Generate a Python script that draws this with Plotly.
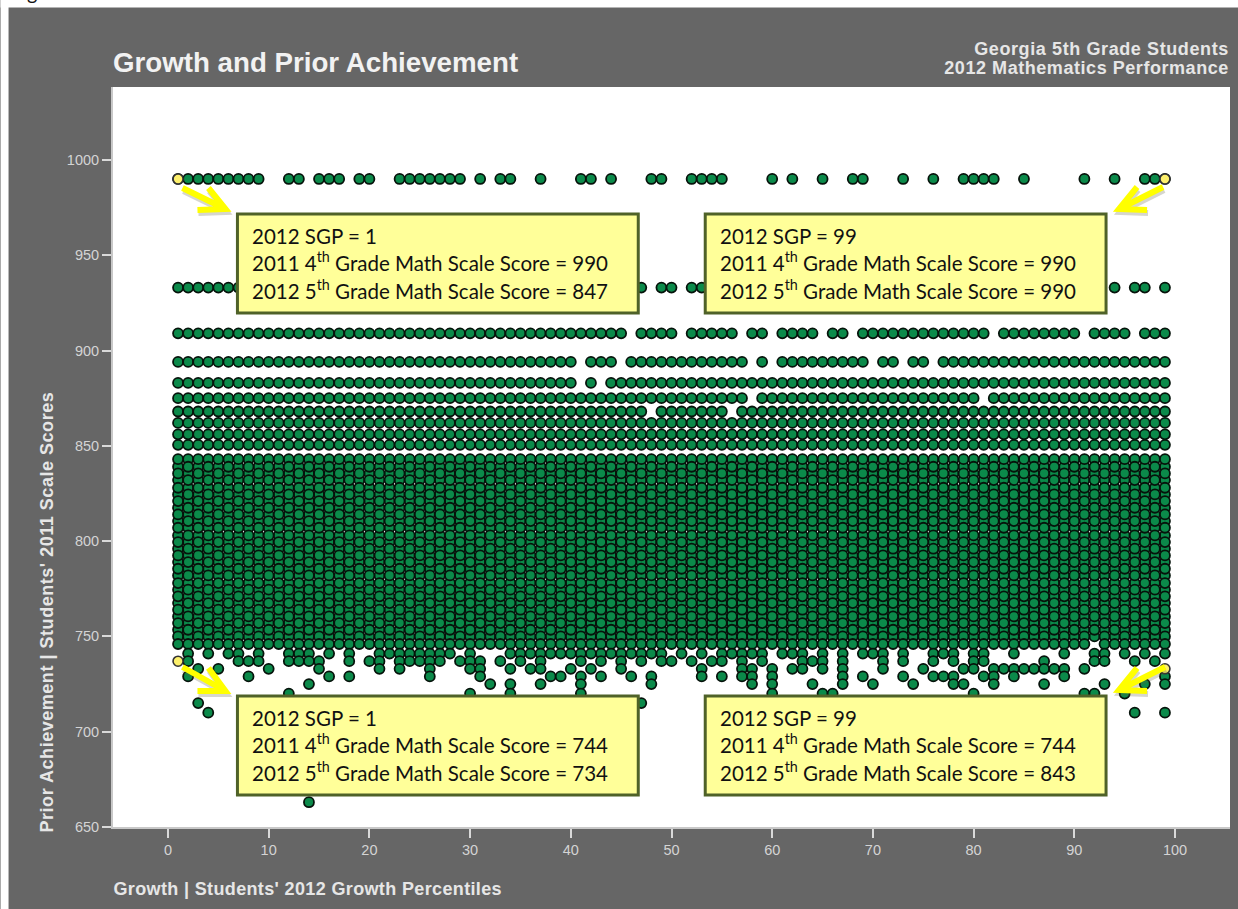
import plotly.graph_objects as go

W, H = 1238, 909
L, R, T, B = 112.5, 1230, 87, 827

TITLE = "Growth and Prior Achievement"
SUBTITLE = ["Georgia 5th Grade Students", "2012 Mathematics Performance"]
X_TITLE = "Growth | Students' 2012 Growth Percentiles"
Y_TITLE = "Prior Achievement | Students' 2011 Scale Scores"
X_TICKS = [0, 10, 20, 30, 40, 50, 60, 70, 80, 90, 100]
Y_TICKS = [650, 700, 750, 800, 850, 900, 950, 1000]

ALL_SGP = list(range(1, 100))

ROW_990 = [1, 2, 3, 4, 5, 6, 7, 8, 9, 12, 13, 15, 16, 17, 19, 20, 23, 24, 25, 26, 27, 28, 29, 31, 33, 34,
           37, 41, 42, 44, 48, 49, 52, 53, 54, 55, 60, 62, 65, 68, 69, 73, 76, 79, 80, 81, 82, 85, 91, 94,
           97, 98, 99]
ROW_933 = [1, 2, 3, 4, 5, 6, 7, 47, 49, 50, 52, 53, 94, 96, 97, 99]
ROW_909 = [*range(1, 46), 47, 48, 49, 50, 52, 53, 54, 55, 56, 58, 59, 61, 62, 63, 64, 66, 67,
           *range(69, 82), *range(83, 91), 92, 93, 94, 95, 97, 98, 99]
ROW_894 = [*range(1, 41), 42, 43, 44, *range(46, 58), 59, *range(61, 70), 71, 72, 74, 75, *range(77, 100)]
ROW_883 = [*range(1, 41), 42, *range(44, 100)]
ROW_875 = [*range(1, 58), *range(59, 81), *range(82, 100)]
ROW_868 = [*range(1, 48), *range(49, 56), *range(57, 100)]

# Rows that run complete from SGP 1 to 99
UPPER_SCORES = [862, 856, 850.5]
BLOCK_SCORES = [843, 839, 835.5, 832, 828, 824.5, 821, 817.5, 814, 810.5, 807, 803, 799.5,
                796, 792.5, 789, 785.5, 782, 778, 774.5, 771, 767.5, 764, 760.5, 757, 753.5, 750]
ROW_746 = [*range(1, 92), *range(93, 100)]
ROW_741 = [2, 4, 6, 7, 9, 12, 13, 14, 16, 18, 21, 22, 23, 24, 25, 26, 27, 28, 30, 34, 35, 36, 37, 38, 39, 40,
           41, 42, 43, 44, 45, 46, 47, 48, 49, 51, 53, 55, 56, 57, 58, 59, 61, 62, 63, 65, 67, 69, 70, 71,
           73, 76, 77, 78, 80, 81, 84, 89, 92, 93, 95, 97, 99]
ROW_737 = [2, 7, 8, 9, 12, 13, 14, 15, 18, 20, 21, 23, 24, 25, 26, 27, 29, 30, 31, 33, 35, 37, 41, 43, 45, 47,
           49, 50, 52, 54, 55, 57, 59, 63, 64, 65, 67, 71, 73, 76, 78, 80, 81, 87, 92, 93, 96, 98]
ROW_733 = [3, 5, 10, 15, 21, 23, 26, 30, 31, 34, 36, 37, 40, 42, 45, 53, 57, 58, 60, 62, 63, 65, 67, 71, 75,
           79, 80, 82, 83, 84, 85, 86, 87, 88, 89, 91]
ROW_729 = [2, 8, 16, 18, 26, 31, 38, 39, 41, 43, 46, 48, 53, 55, 57, 58, 60, 67, 69, 73, 76, 77, 78, 81, 82,
           84, 89, 99]
ROW_725 = [14, 32, 34, 37, 41, 48, 58, 60, 64, 67, 70, 74, 78, 79, 82, 87, 93, 97, 99]
ROW_720 = [12, 30, 34, 41, 60, 65, 66, 80, 91, 92, 95]
ROW_715 = [3, 47]
ROW_710 = [4, 96, 99]
ROW_663 = [14]

TOP_ROWS = [(990, ROW_990), (933, ROW_933), (909, ROW_909), (894, ROW_894), (883, ROW_883), (875, ROW_875),
            (868, ROW_868)] + [(s, ALL_SGP) for s in UPPER_SCORES]
BOTTOM_ROWS = [(746, ROW_746), (741, ROW_741), (737, ROW_737), (733, ROW_733), (729, ROW_729), (725, ROW_725),
               (720, ROW_720), (715, ROW_715), (710, ROW_710), (663, ROW_663)]

HIGHLIGHT_SGP = [1, 99, 1, 99]
HIGHLIGHT_SCORE = [990, 990, 737, 733]

BOX_TEXT = [
    ["2012 SGP = 1", "2011 4<sup>th</sup> Grade Math Scale Score = 990", "2012 5<sup>th</sup> Grade Math Scale Score = 847"],
    ["2012 SGP = 99", "2011 4<sup>th</sup> Grade Math Scale Score = 990", "2012 5<sup>th</sup> Grade Math Scale Score = 990"],
    ["2012 SGP = 1", "2011 4<sup>th</sup> Grade Math Scale Score = 744", "2012 5<sup>th</sup> Grade Math Scale Score = 734"],
    ["2012 SGP = 99", "2011 4<sup>th</sup> Grade Math Scale Score = 744", "2012 5<sup>th</sup> Grade Math Scale Score = 843"],
]
BOX_POS = [(237, 214), (705, 214), (237, 696), (705, 696)]
ARROWS = [
    ((182, 188), (225, 209), (208, 188), (197, 210)),
    ((1163, 187), (1119, 209), (1137, 187), (1147, 210)),
    ((182, 667), (225, 691), (208, 668), (197, 691)),
    ((1165, 667), (1119, 690), (1137, 668), (1147, 691)),
]
LINE_OFFSET = [22, 47.5, 75]


def px(x):
    return (x - L) / (R - L)


def py(y):
    return (B - y) / (B - T)


xs, ys = [], []
for score, sgps in TOP_ROWS:
    xs += sgps
    ys += [score] * len(sgps)
# Dense block: the drawing order alternates by column, so neighbouring columns show different rows on top.
for parity_row, parity_col in [(1, 1), (0, 0), (0, 1), (1, 0)]:
    for i, score in enumerate(BLOCK_SCORES):
        if i % 2 == parity_row:
            col = [s for s in ALL_SGP if s % 2 == parity_col]
            xs += col
            ys += [score] * len(col)
for score, sgps in BOTTOM_ROWS:
    xs += sgps
    ys += [score] * len(sgps)

fig = go.Figure()
fig.add_trace(go.Scatter(x=xs, y=ys, mode="markers", hoverinfo="skip",
                         marker=dict(size=10, color="#0B8A4A", line=dict(color="#06130b", width=1.8))))
fig.add_trace(go.Scatter(x=HIGHLIGHT_SGP, y=HIGHLIGHT_SCORE, mode="markers", hoverinfo="skip",
                         marker=dict(size=10, color="#FDF06C", line=dict(color="#333333", width=1.6))))

shapes = []
shapes.append(dict(type="rect", xref="paper", yref="paper", x0=px(0), x1=px(8), y0=py(H), y1=py(0),
                   fillcolor="white", line_width=0, layer="above"))
shapes.append(dict(type="rect", xref="paper", yref="paper", x0=px(0), x1=px(W), y0=py(7.5), y1=py(0),
                   fillcolor="white", line_width=0, layer="above"))


def arrow_path(a, dx=0, dy=0):
    (t, tip, w1, w2) = a
    f = lambda p: f"{px(p[0] + dx)} {py(p[1] + dy)}"
    return f"M {f(t)} L {f(tip)} M {f(w1)} L {f(tip)} L {f(w2)}"


for a in ARROWS:
    shapes.append(dict(type="path", xref="paper", yref="paper", path=arrow_path(a, 1, 3),
                       line=dict(color="rgba(90,90,60,0.25)", width=6), layer="above"))
    shapes.append(dict(type="path", xref="paper", yref="paper", path=arrow_path(a),
                       line=dict(color="#FFFF00", width=6), layer="above"))

annotations = []
for (bx, by), lines in zip(BOX_POS, BOX_TEXT):
    shapes.append(dict(type="rect", xref="paper", yref="paper", x0=px(bx), x1=px(bx + 401),
                       y0=py(by + 99), y1=py(by), fillcolor="#FFFF99",
                       line=dict(color="#4F6228", width=3), layer="above"))
    for off, t in zip(LINE_OFFSET, lines):
        annotations.append(dict(text=t, xref="paper", yref="paper", x=px(bx + 13), y=py(by + off),
                                xanchor="left", yanchor="middle", showarrow=False, align="left",
                                font=dict(family="Lato", size=20.5, color="#111111")))

annotations.append(dict(text=TITLE, xref="paper", yref="paper", x=px(110), y=py(62), xanchor="left",
                        yanchor="middle", showarrow=False,
                        font=dict(family="Liberation Sans", size=27.7, color="#F2F2F2", weight="bold")))
for t, xx, yy in zip(SUBTITLE, [1223, 1223], [49, 68]):
    annotations.append(dict(text=t, xref="paper", yref="paper", x=px(xx), y=py(yy), xanchor="right",
                            yanchor="middle", showarrow=False,
                            font=dict(family="Liberation Sans", size=18, color="#E6E6E6", weight="bold")))
annotations.append(dict(text=X_TITLE, xref="paper", yref="paper", x=px(118.5), y=py(889), xanchor="left",
                        yanchor="middle", showarrow=False,
                        font=dict(family="Liberation Sans", size=18, color="#E6E6E6", weight="bold")))
annotations.append(dict(text=Y_TITLE, xref="paper", yref="paper", x=px(46), y=py(612.5), xanchor="center",
                        yanchor="middle", showarrow=False, textangle=-90,
                        font=dict(family="Liberation Sans", size=18, color="#E6E6E6", weight="bold")))
annotations.append(dict(text="Figure", xref="paper", yref="paper", x=px(8), y=py(6), xanchor="left",
                        yanchor="bottom", showarrow=False, font=dict(family="Lato", size=20, color="#111111")))

axis_common = dict(showgrid=False, zeroline=False, showline=True, linecolor="#C8C8C8", linewidth=2,
                   ticks="outside", ticklen=9, tickwidth=2, tickcolor="#D9D9D9",
                   tickfont=dict(family="Liberation Sans", size=14.5, color="#D4D4D4"))

fig.update_layout(
    width=W, height=H, showlegend=False,
    margin=dict(l=L, r=W - R, t=T, b=H - B, pad=0),
    paper_bgcolor="#666666", plot_bgcolor="white",
    xaxis=dict(range=[(L - 167.5) / 10.075, (R - 167.5) / 10.075], tickvals=X_TICKS, **axis_common),
    yaxis=dict(range=[650, 650 + (B - T) / 1.906], tickvals=Y_TICKS, **axis_common),
    shapes=shapes, annotations=annotations,
)

SPACING_JS = """
document.body.style.margin='0';
document.documentElement.style.overflow='hidden';
document.querySelectorAll('.annotation-text').forEach(function(t){
  var s=t.textContent;
  if(s.indexOf('Georgia')===0){t.style.letterSpacing='0.6px';}
  else if(s.indexOf('2012 Mathematics')===0){t.style.letterSpacing='0.55px';}
  else if(s.indexOf('Growth |')===0){t.style.letterSpacing='0.36px';}
  else if(s.indexOf('Prior Achievement |')===0){t.style.letterSpacing='0.53px';}
});
"""
fig.write_html("out.html", post_script=SPACING_JS, config={"displayModeBar": False})
